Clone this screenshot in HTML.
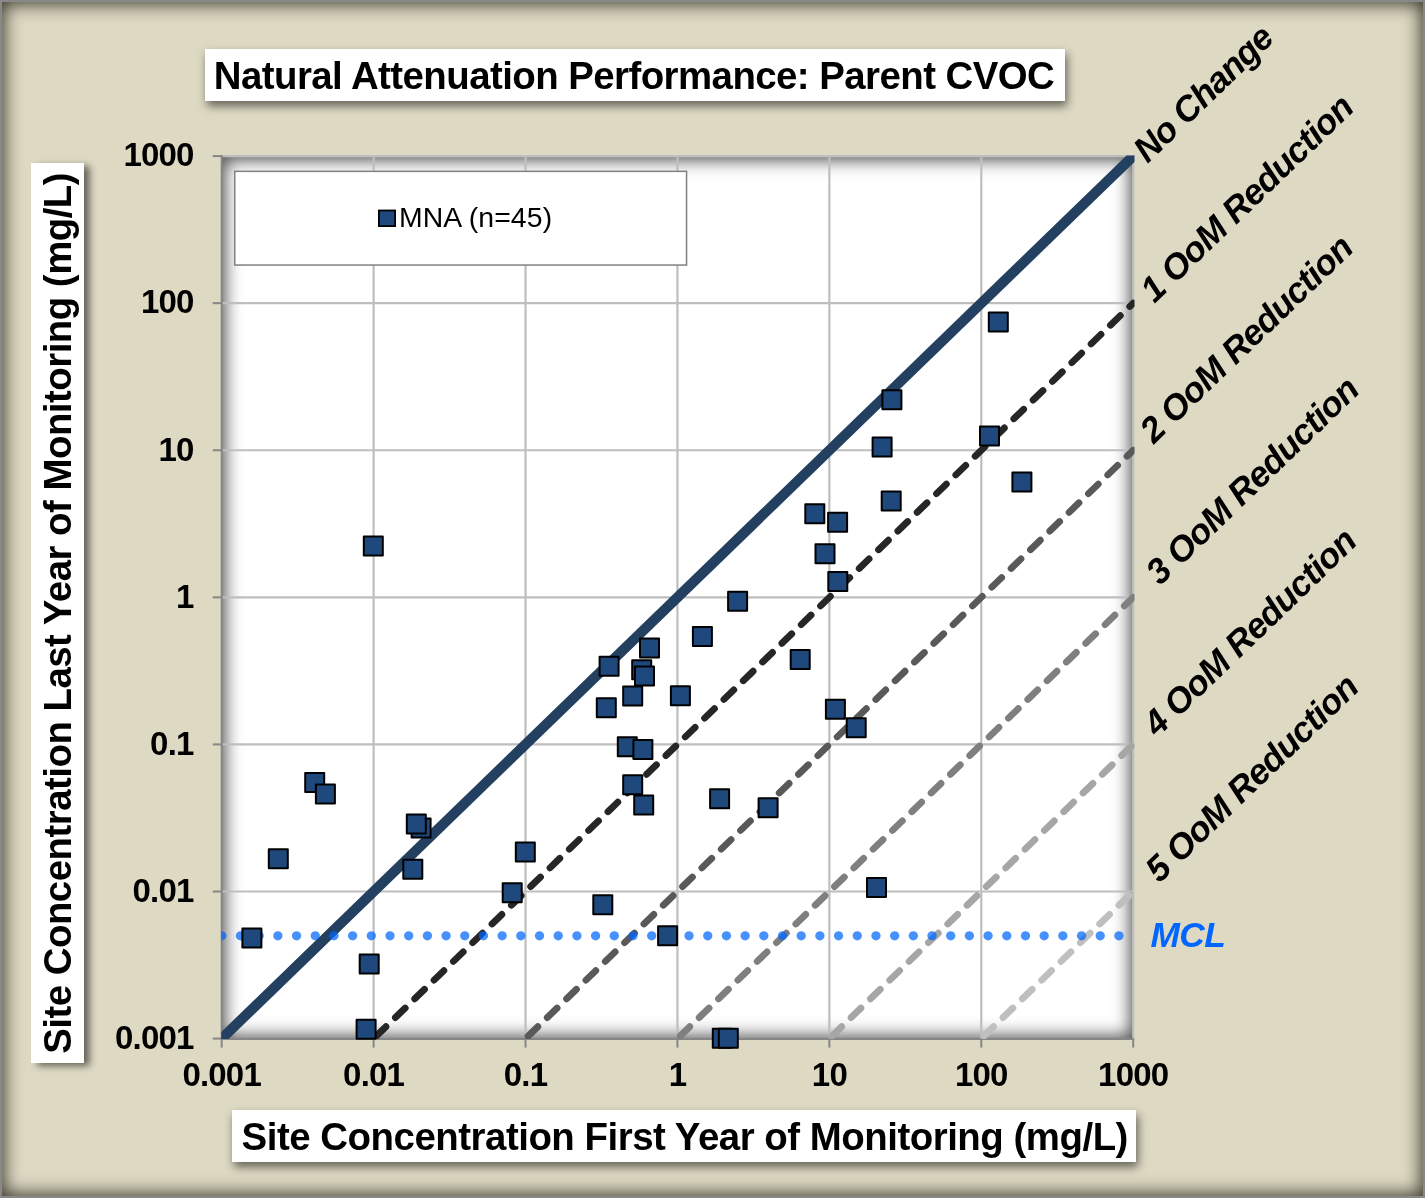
<!DOCTYPE html>
<html lang="en">
<head>
<meta charset="utf-8">
<title>Natural Attenuation Performance: Parent CVOC</title>
<style>
html,body{margin:0;padding:0;}
body{width:1425px;height:1198px;overflow:hidden;background:#888888;font-family:"Liberation Sans",sans-serif;}
#chart{position:relative;width:1425px;height:1198px;box-sizing:border-box;background:#888888;overflow:hidden;}
#bgfill{position:absolute;left:2px;top:2px;width:1421px;height:1193.6px;background:#DED9C3;}
#frame{position:absolute;left:2px;top:2px;width:1421px;height:1193.6px;box-shadow:inset 0 0 18px 2px rgba(25,25,15,0.85);pointer-events:none;}
#plot{position:absolute;left:221px;top:156px;width:912px;height:883px;background:#fff;box-shadow:inset 0.5px 0.5px 16.5px 3.2px rgba(0,0,0,0.72);}
.tbox{position:absolute;background:#fff;}
#tb-title{left:205px;top:49px;width:860px;height:51.7px;box-shadow:2px 5px 9px rgba(0,0,0,0.55);}
#tb-x{left:232px;top:1110px;width:904.4px;height:51.6px;box-shadow:2px 5px 9px rgba(0,0,0,0.55);}
#tb-y{left:31.4px;top:162.6px;width:52.4px;height:900.3px;box-shadow:5.5px 3px 7px rgba(0,0,0,0.55);}
svg{position:absolute;left:0;top:0;}
text{font-family:"Liberation Sans",sans-serif;fill:#000;}
.b{font-weight:bold;}
.bi{font-weight:bold;font-style:italic;}
</style>
</head>
<body>
<div id="chart">
<div id="bgfill"></div>
<div id="frame"></div>
<div id="plot"></div>
<div class="tbox" id="tb-title"></div>
<div class="tbox" id="tb-x"></div>
<div class="tbox" id="tb-y"></div>
<svg width="1425" height="1198" viewBox="0 0 1425 1198">
<defs><clipPath id="pc"><rect x="221.3" y="155.5" width="913.2" height="883.5"/></clipPath></defs>

<g stroke="#BEBEBE" stroke-width="2.2" fill="none">
<line x1="373.62" y1="155.10" x2="373.62" y2="1038.60"/>
<line x1="525.53" y1="155.10" x2="525.53" y2="1038.60"/>
<line x1="677.45" y1="155.10" x2="677.45" y2="1038.60"/>
<line x1="829.37" y1="155.10" x2="829.37" y2="1038.60"/>
<line x1="981.28" y1="155.10" x2="981.28" y2="1038.60"/>
<line x1="1133.20" y1="155.10" x2="1133.20" y2="1038.60"/>
<line x1="221.70" y1="156.10" x2="1134.20" y2="156.10"/>
<line x1="221.70" y1="303.18" x2="1134.20" y2="303.18"/>
<line x1="221.70" y1="450.27" x2="1134.20" y2="450.27"/>
<line x1="221.70" y1="597.35" x2="1134.20" y2="597.35"/>
<line x1="221.70" y1="744.43" x2="1134.20" y2="744.43"/>
<line x1="221.70" y1="891.52" x2="1134.20" y2="891.52"/>
</g>
<g stroke="#868686" stroke-width="2" fill="none">
<line x1="221.70" y1="155.10" x2="221.70" y2="1039.60"/>
<line x1="220.70" y1="1039.00" x2="1134.20" y2="1039.00"/>
<line x1="221.70" y1="1038.60" x2="221.70" y2="1047.60"/>
<line x1="212.70" y1="156.10" x2="221.70" y2="156.10"/>
<line x1="373.62" y1="1038.60" x2="373.62" y2="1047.60"/>
<line x1="212.70" y1="303.18" x2="221.70" y2="303.18"/>
<line x1="525.53" y1="1038.60" x2="525.53" y2="1047.60"/>
<line x1="212.70" y1="450.27" x2="221.70" y2="450.27"/>
<line x1="677.45" y1="1038.60" x2="677.45" y2="1047.60"/>
<line x1="212.70" y1="597.35" x2="221.70" y2="597.35"/>
<line x1="829.37" y1="1038.60" x2="829.37" y2="1047.60"/>
<line x1="212.70" y1="744.43" x2="221.70" y2="744.43"/>
<line x1="981.28" y1="1038.60" x2="981.28" y2="1047.60"/>
<line x1="212.70" y1="891.52" x2="221.70" y2="891.52"/>
<line x1="1133.20" y1="1038.60" x2="1133.20" y2="1047.60"/>
<line x1="212.70" y1="1038.60" x2="221.70" y2="1038.60"/>
</g>
<rect x="234.75" y="171.35" width="451.8" height="93.7" fill="#fff" stroke="#808080" stroke-width="1.5"/>
<rect x="378.9" y="210.5" width="16.2" height="15.6" fill="#1F497D" stroke="#000" stroke-width="1.8"/>
<text x="398.9" y="226.9" font-size="28.4" textLength="153.2">MNA (n=45)</text>
<g clip-path="url(#pc)" fill="none">
<line x1="221.70" y1="1038.60" x2="1133.20" y2="156.10" stroke="#244061" stroke-width="10.2" stroke-linecap="square"/>
<line x1="373.62" y1="1038.60" x2="1133.20" y2="303.18" stroke="#262626" stroke-width="6.8" stroke-linecap="round" stroke-dasharray="13.7 13.2" stroke-dashoffset="-3.4"/>
<line x1="525.53" y1="1038.60" x2="1133.20" y2="450.27" stroke="#595959" stroke-width="6.8" stroke-linecap="round" stroke-dasharray="13.7 13.2" stroke-dashoffset="-3.4"/>
<line x1="677.45" y1="1038.60" x2="1133.20" y2="597.35" stroke="#7F7F7F" stroke-width="6.8" stroke-linecap="round" stroke-dasharray="13.7 13.2" stroke-dashoffset="-3.4"/>
<line x1="829.37" y1="1038.60" x2="1133.20" y2="744.43" stroke="#A6A6A6" stroke-width="6.8" stroke-linecap="round" stroke-dasharray="13.7 13.2" stroke-dashoffset="-3.4"/>
<line x1="981.28" y1="1038.60" x2="1133.20" y2="891.52" stroke="#BFBFBF" stroke-width="6.8" stroke-linecap="round" stroke-dasharray="13.7 13.2" stroke-dashoffset="-3.4"/>
<line x1="221.80" y1="935.79" x2="1132.20" y2="935.79" stroke="rgba(0,102,255,0.72)" stroke-width="9.33" stroke-linecap="round" stroke-dasharray="0.01 18.68"/>
</g>
<g fill="#1F497D" stroke="#000" stroke-width="2" stroke-linejoin="round">
<rect x="242.4" y="928.4" width="19" height="19"/>
<rect x="268.8" y="849.3" width="19" height="19"/>
<rect x="305.2" y="773.0" width="19" height="19"/>
<rect x="315.9" y="784.6" width="19" height="19"/>
<rect x="363.8" y="536.4" width="19" height="19"/>
<rect x="359.7" y="954.6" width="19" height="19"/>
<rect x="356.6" y="1019.8" width="19" height="19"/>
<rect x="403.3" y="859.7" width="19" height="19"/>
<rect x="411.6" y="818.6" width="19" height="19"/>
<rect x="406.8" y="814.4" width="19" height="19"/>
<rect x="502.7" y="883.2" width="19" height="19"/>
<rect x="515.8" y="842.5" width="19" height="19"/>
<rect x="593.3" y="895.2" width="19" height="19"/>
<rect x="596.8" y="698.3" width="19" height="19"/>
<rect x="599.6" y="656.8" width="19" height="19"/>
<rect x="617.8" y="737.3" width="19" height="19"/>
<rect x="623.2" y="686.6" width="19" height="19"/>
<rect x="623.2" y="775.2" width="19" height="19"/>
<rect x="632.2" y="660.2" width="19" height="19"/>
<rect x="635.0" y="666.6" width="19" height="19"/>
<rect x="633.4" y="740.1" width="19" height="19"/>
<rect x="634.2" y="795.4" width="19" height="19"/>
<rect x="640.0" y="638.4" width="19" height="19"/>
<rect x="658.1" y="926.2" width="19" height="19"/>
<rect x="670.9" y="686.2" width="19" height="19"/>
<rect x="692.9" y="627.0" width="19" height="19"/>
<rect x="710.1" y="789.2" width="19" height="19"/>
<rect x="712.8" y="1028.8" width="19" height="19"/>
<rect x="718.8" y="1028.8" width="19" height="19"/>
<rect x="728.1" y="591.7" width="19" height="19"/>
<rect x="758.6" y="798.2" width="19" height="19"/>
<rect x="790.7" y="650.1" width="19" height="19"/>
<rect x="805.3" y="504.2" width="19" height="19"/>
<rect x="815.5" y="544.3" width="19" height="19"/>
<rect x="828.1" y="512.7" width="19" height="19"/>
<rect x="828.3" y="572.0" width="19" height="19"/>
<rect x="825.9" y="699.8" width="19" height="19"/>
<rect x="846.7" y="718.2" width="19" height="19"/>
<rect x="867.0" y="878.0" width="19" height="19"/>
<rect x="872.6" y="437.4" width="19" height="19"/>
<rect x="882.4" y="390.3" width="19" height="19"/>
<rect x="881.7" y="491.4" width="19" height="19"/>
<rect x="980.0" y="426.5" width="19" height="19"/>
<rect x="988.8" y="312.5" width="19" height="19"/>
<rect x="1012.4" y="472.6" width="19" height="19"/>
</g>
<g class="b" font-size="33">
<text x="193.6" y="166.3" text-anchor="end" letter-spacing="-0.8">1000</text>
<text x="193.6" y="313.4" text-anchor="end" letter-spacing="-0.8">100</text>
<text x="193.6" y="460.5" text-anchor="end" letter-spacing="-0.8">10</text>
<text x="193.6" y="607.5" text-anchor="end" letter-spacing="-0.8">1</text>
<text x="193.6" y="754.6" text-anchor="end" letter-spacing="-0.8">0.1</text>
<text x="193.6" y="901.7" text-anchor="end" letter-spacing="-0.8">0.01</text>
<text x="193.6" y="1048.8" text-anchor="end" letter-spacing="-0.8">0.001</text>
<text x="221.7" y="1085.8" text-anchor="middle" letter-spacing="-0.8">0.001</text>
<text x="373.6" y="1085.8" text-anchor="middle" letter-spacing="-0.8">0.01</text>
<text x="525.5" y="1085.8" text-anchor="middle" letter-spacing="-0.8">0.1</text>
<text x="677.5" y="1085.8" text-anchor="middle" letter-spacing="-0.8">1</text>
<text x="829.4" y="1085.8" text-anchor="middle" letter-spacing="-0.8">10</text>
<text x="981.3" y="1085.8" text-anchor="middle" letter-spacing="-0.8">100</text>
<text x="1133.2" y="1085.8" text-anchor="middle" letter-spacing="-0.8">1000</text>
</g>
<text class="b" x="213.8" y="88.6" font-size="38.4" textLength="841">Natural Attenuation Performance: Parent CVOC</text>
<text class="b" x="241.6" y="1150.0" font-size="38.4" textLength="886.8">Site Concentration First Year of Monitoring (mg/L)</text>
<text class="b" transform="translate(71.3,1053.8) rotate(-90)" font-size="38.4" textLength="881.4">Site Concentration Last Year of Monitoring (mg/L)</text>
<g class="bi" font-size="35.3">
<text transform="translate(1147.5,164) rotate(-44.0)" textLength="178.6">No Change</text>
<text transform="translate(1154.5,304.0) rotate(-44.0)" textLength="280.3">1 OoM Reduction</text>
<text transform="translate(1153.9,444.6) rotate(-44.0)" textLength="280.3">2 OoM Reduction</text>
<text transform="translate(1160.0,586.2) rotate(-44.0)" textLength="280.3">3 OoM Reduction</text>
<text transform="translate(1157.5,737.8) rotate(-44.0)" textLength="280.3">4 OoM Reduction</text>
<text transform="translate(1159.5,883.8) rotate(-44.0)" textLength="280.3">5 OoM Reduction</text>
</g>
<text class="bi" x="1150.4" y="947.1" font-size="35.3" textLength="75.5" style="fill:#0066FF">MCL</text>
</svg>
</div>
</body>
</html>
